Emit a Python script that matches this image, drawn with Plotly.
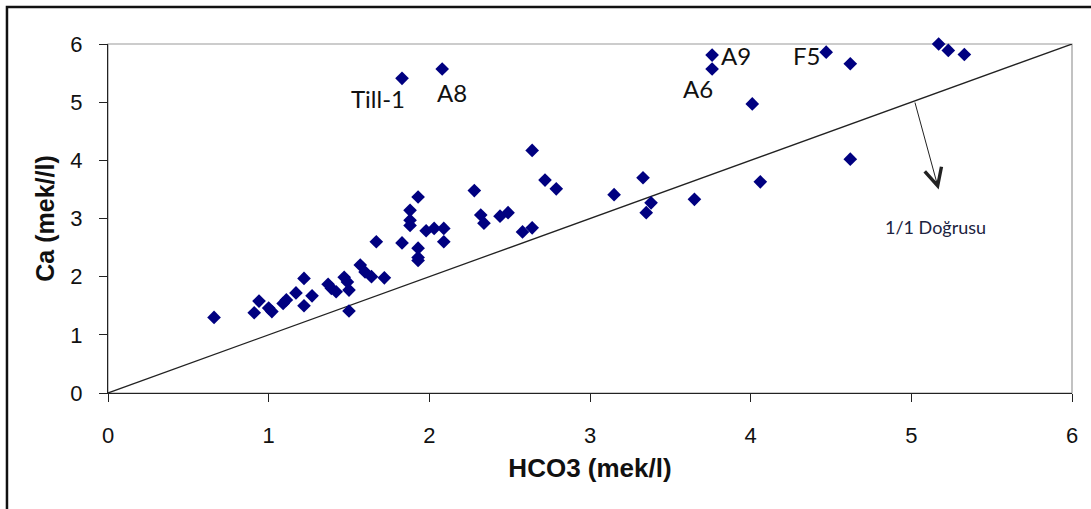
import plotly.graph_objects as go

hco3 = [0.66, 0.91, 0.94, 1.00, 1.02, 1.09, 1.11, 1.17, 1.22, 1.22, 1.27,
        1.37, 1.39, 1.42, 1.47, 1.49, 1.50, 1.50, 1.57, 1.60, 1.64, 1.67,
        1.72, 1.83, 1.88, 1.88, 1.88, 1.93, 1.93, 1.93, 1.93, 1.98, 2.03,
        2.09, 2.09, 2.28, 2.32, 2.34, 2.44, 2.49, 2.58, 2.64, 2.64, 2.72,
        2.79, 3.15, 3.33, 3.38, 3.35, 3.65, 4.06, 3.76, 3.76, 4.01, 4.47,
        4.62, 4.62, 5.17, 5.23, 5.33, 1.83, 2.08]
ca = [1.30, 1.38, 1.58, 1.46, 1.40, 1.54, 1.60, 1.72, 1.97, 1.50, 1.67,
      1.87, 1.80, 1.74, 1.99, 1.91, 1.77, 1.41, 2.20, 2.08, 2.00, 2.60,
      1.98, 2.58, 3.14, 2.97, 2.88, 3.37, 2.49, 2.33, 2.28, 2.79, 2.83,
      2.83, 2.60, 3.48, 3.06, 2.92, 3.04, 3.10, 2.77, 2.84, 4.17, 3.66,
      3.51, 3.41, 3.70, 3.27, 3.10, 3.33, 3.63, 5.81, 5.57, 4.97, 5.86,
      5.66, 4.02, 6.00, 5.89, 5.82, 5.41, 5.57]

line_x = [0, 6]
line_y = [0, 6]

label_text = ["Till-1", "A8", "A6", "A9", "F5"]
label_x = [1.68, 2.14, 3.67, 3.91, 4.35]
label_y = [5.06, 5.17, 5.24, 5.81, 5.81]

x_ticks = [0, 1, 2, 3, 4, 5, 6]
y_ticks = [0, 1, 2, 3, 4, 5, 6]

fig = go.Figure()
fig.add_trace(go.Scatter(x=line_x, y=line_y, mode="lines",
                         line=dict(color="#222222", width=1.3),
                         hoverinfo="skip", showlegend=False))
fig.add_trace(go.Scatter(x=hco3, y=ca, mode="markers",
                         marker=dict(symbol="diamond", size=10.5, color="#000080",
                                     line=dict(width=0)),
                         cliponaxis=False, showlegend=False))

for t, lx, ly in zip(label_text, label_x, label_y):
    fig.add_annotation(x=lx, y=ly, text=t, showarrow=False,
                       font=dict(family="Lato", size=24, color="#111111"))

fig.add_annotation(x=5.17, y=3.50, ax=5.02, ay=5.02, xref="x", yref="y",
                   axref="x", ayref="y", text="", showarrow=True,
                   arrowhead=5, arrowsize=3.4, arrowwidth=1.0, arrowcolor="#222222")
fig.add_annotation(x=5.15, y=2.85, text="1/1 Doğrusu", showarrow=False,
                   font=dict(family="Lato", size=18, color="#1c2340"))

# plot-area frame (gray top/right)
fig.add_shape(type="rect", xref="paper", yref="paper", x0=0, y0=0, x1=1, y1=1,
              line=dict(color="#9a9a9a", width=1.2), layer="below")
# outer chart frame
fig.add_shape(type="rect", xref="paper", yref="paper", x0=-0.1048, y0=-0.6,
              x1=1.2, y1=1.106, line=dict(color="#111111", width=2.5))

fig.update_layout(
    width=1091, height=509,
    margin=dict(l=108, r=19, t=44, b=116),
    paper_bgcolor="white", plot_bgcolor="white",
    font=dict(family="Liberation Sans, Arial", color="#111111"),
    showlegend=False,
    xaxis=dict(range=[0, 6], tickvals=x_ticks, ticks="outside", ticklen=8,
               tickcolor="#222222", showline=True, linecolor="#222222", linewidth=1.3,
               showgrid=False, zeroline=False, tickfont=dict(size=22),
               ticklabelstandoff=14,
               title=dict(text="<b>HCO3 (mek/l)</b>", font=dict(size=26), standoff=12)),
    yaxis=dict(range=[0, 6], tickvals=y_ticks, ticks="outside", ticklen=8,
               tickcolor="#222222", showline=True, linecolor="#222222", linewidth=1.3,
               showgrid=False, zeroline=False, tickfont=dict(size=22),
               ticklabelstandoff=12,
               title=dict(text="<b>Ca (mek//l)</b>", font=dict(size=25), standoff=8)),
)

fig.write_html("out.html", config={"displayModeBar": False},
               post_script="document.body.style.margin='0';")
